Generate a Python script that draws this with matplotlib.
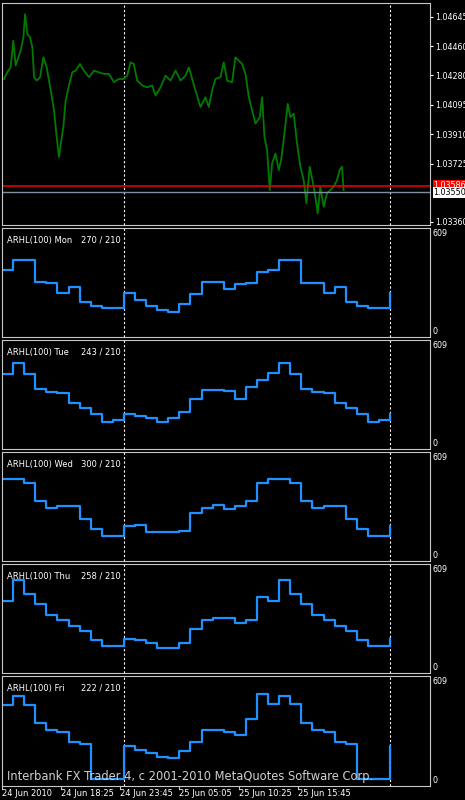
import matplotlib
matplotlib.use("Agg")
import matplotlib.pyplot as plt

# price trace (hours from chart start, price)
price_hours = [0.18, 0.48, 0.78, 1.02, 1.23, 1.38, 1.68, 1.93, 2.08, 2.29, 2.53, 2.74, 2.89, 3.13, 3.43, 3.73,
               4.03, 4.24, 4.45, 4.69, 4.93, 5.14, 5.35, 5.53, 5.74, 6.04, 6.34, 6.64, 7.03, 7.39, 7.84, 8.29,
               8.74, 9.19, 9.64, 10.09, 10.54, 10.99, 11.29, 11.59, 11.89, 12.19, 12.65, 13.10, 13.55, 13.85,
               14.30, 14.75, 15.20, 15.65, 16.10, 16.55, 16.85, 17.15, 17.45, 17.90, 18.35, 18.65, 18.95, 19.25,
               19.70, 20.00, 20.30, 20.75, 21.05, 21.35, 21.65, 21.96, 22.26, 22.56, 22.86, 23.25, 23.46, 23.67,
               23.91, 24.15, 24.36, 24.66, 24.96, 25.17, 25.47, 25.77, 26.01, 26.31, 26.61, 26.91, 27.21, 27.45,
               27.75, 28.05, 28.26, 28.47, 28.71, 29.01, 29.31, 29.61, 29.91, 30.21, 30.45, 30.66, 30.81]
price_vals = [1.04256, 1.04298, 1.04329, 1.04496, 1.04340, 1.04371, 1.04433, 1.04516, 1.04662, 1.04537,
              1.04516, 1.04454, 1.04267, 1.04246, 1.04267, 1.04392, 1.04329, 1.04246, 1.04163, 1.04059,
              1.03893, 1.03768, 1.03872, 1.03955, 1.04121, 1.04215, 1.04298, 1.04308, 1.04350, 1.04308,
              1.04267, 1.04308, 1.04298, 1.04288, 1.04288, 1.04236, 1.04256, 1.04256, 1.04277, 1.04360,
              1.04350, 1.04246, 1.04215, 1.04204, 1.04215, 1.04152, 1.04204, 1.04277, 1.04246, 1.04308,
              1.04246, 1.04277, 1.04329, 1.04256, 1.04184, 1.04080, 1.04142, 1.04080, 1.04184, 1.04256,
              1.04267, 1.04360, 1.04246, 1.04236, 1.04392, 1.04371, 1.04350, 1.04288, 1.04142, 1.04059,
              1.03976, 1.04017, 1.04142, 1.03893, 1.03809, 1.03560, 1.03726, 1.03789, 1.03685, 1.03747,
              1.03913, 1.04100, 1.04017, 1.04038, 1.03851, 1.03706, 1.03622, 1.03477, 1.03706, 1.03602,
              1.03518, 1.03414, 1.03581, 1.03456, 1.03539, 1.03560, 1.03581, 1.03622, 1.03685, 1.03706, 1.03560]
price_ticks = [1.04645, 1.04460, 1.04280, 1.04095, 1.03910, 1.03725, 1.03360]
bid_line = 1.03586
ask_line = 1.03550

# ARHL(100) hourly values per weekday, last value is the current bar
days = ["Mon", "Tue", "Wed", "Thu", "Fri"]
day_labels = ["270 / 210", "243 / 210", "300 / 210", "258 / 210", "222 / 210"]
arhl = {
    "Mon": [374, 441, 441, 302, 294, 231, 268, 176, 149, 137, 137, 233, 188, 149, 127, 114, 163, 227, 300, 300,
            255, 288, 298, 362, 376, 441, 441, 298, 294, 231, 268, 176, 149, 137, 137, 231],
    "Tue": [430, 495, 426, 333, 312, 306, 243, 214, 177, 125, 141, 177, 164, 152, 125, 150, 189, 268, 326, 326,
            318, 268, 343, 389, 432, 495, 426, 333, 312, 306, 243, 214, 177, 125, 141, 177],
    "Wed": [468, 468, 447, 333, 291, 301, 301, 222, 156, 114, 114, 177, 181, 137, 137, 137, 148, 260, 289, 306,
            281, 301, 330, 447, 468, 468, 447, 333, 291, 301, 301, 222, 156, 114, 114, 177],
    "Thu": [409, 542, 451, 389, 318, 291, 249, 222, 162, 125, 125, 170, 164, 145, 114, 114, 148, 231, 289, 301,
            301, 272, 289, 434, 409, 542, 451, 389, 318, 291, 249, 222, 162, 125, 125, 170],
    "Fri": [463, 513, 463, 349, 305, 295, 232, 220, 0, 0, 0, 206, 180, 160, 136, 128, 176, 230, 303, 303,
            293, 276, 375, 531, 465, 513, 465, 349, 305, 295, 232, 220, 0, 0, 0, 206],
}
time_labels = ["24 Jun 2010", "24 Jun 18:25", "24 Jun 23:45", "25 Jun 05:05", "25 Jun 10:25", "25 Jun 15:45"]
time_pos = [0.0, 5.33, 10.67, 16.0, 21.33, 26.67]
day_sep = [11, 35]

W, H = 465, 800
XMAX = 38.6
fig = plt.figure(figsize=(W / 100, H / 100), dpi=100, facecolor="black")
frame = "#c8c8c8"


def make_ax(top, bottom):
    ax = fig.add_axes([2 / W, 1 - bottom / H, 428 / W, (bottom - top) / H])
    ax.set_facecolor("black")
    for s in ax.spines.values():
        s.set_color(frame)
    ax.set_xlim(0, XMAX)
    ax.set_xticks([])
    ax.yaxis.tick_right()
    ax.tick_params(axis="y", colors="white", labelsize=5.8, length=2, pad=1.5)
    for d in day_sep:
        ax.axvline(d, color="white", ls=(0, (2, 2)), lw=0.8)
    return ax


# price panel
ax = make_ax(3, 225)
ax.plot(price_hours, price_vals, color="#007a00", lw=1.3)
ax.axhline(bid_line, color="#e00000", lw=1.2)
ax.axhline(ask_line, color="#8090a0", lw=1)
ax.set_ylim(1.03341, 1.04732)
ax.set_yticks(price_ticks)
ax.set_yticklabels(["%.5f" % v for v in price_ticks])
ax.text(1.008, bid_line + 0.00002, "%.5f" % bid_line, transform=ax.get_yaxis_transform(), fontsize=5.8,
        color="white", va="center", bbox=dict(fc="#ff0000", ec="none", pad=0.5), clip_on=False)
ax.text(1.008, ask_line - 0.00004, "%.5f" % ask_line, transform=ax.get_yaxis_transform(), fontsize=5.8,
        color="black", va="center", bbox=dict(fc="white", ec="none", pad=0.5), clip_on=False)

# ARHL panels
tops = [228, 340, 452, 564, 676]
for i, day in enumerate(days):
    a = make_ax(tops[i], tops[i] + 109 if i < 4 else 786)
    vals = arhl[day]
    a.step(range(len(vals)), vals, where="post", color="#1e90ff", lw=1.6)
    a.set_ylim(-43, 640)
    a.set_yticks([0, 609])
    a.tick_params(axis="y", length=0)
    a.text(0.012, 0.93, "ARHL(100) %s" % day, transform=a.transAxes, color="white", fontsize=6.0, va="top")
    a.text(0.185, 0.93, day_labels[i], transform=a.transAxes, color="white", fontsize=6.0, va="top")
    if i == 4:
        a.text(0.012, 0.03, "Interbank FX Trader 4, c 2001-2010 MetaQuotes Software Corp.",
               transform=a.transAxes, color="#d0d0d0", fontsize=8.3, va="bottom")
        for p, lab in zip(time_pos, time_labels):
            a.text(p, -0.03, lab, transform=a.get_xaxis_transform(), color="white", fontsize=6.0,
                   va="top", ha="left")
            a.plot([p, p], [-0.03, 0], transform=a.get_xaxis_transform(), color=frame, lw=0.8, clip_on=False)

fig.savefig("out.png", dpi=100, facecolor="black")
